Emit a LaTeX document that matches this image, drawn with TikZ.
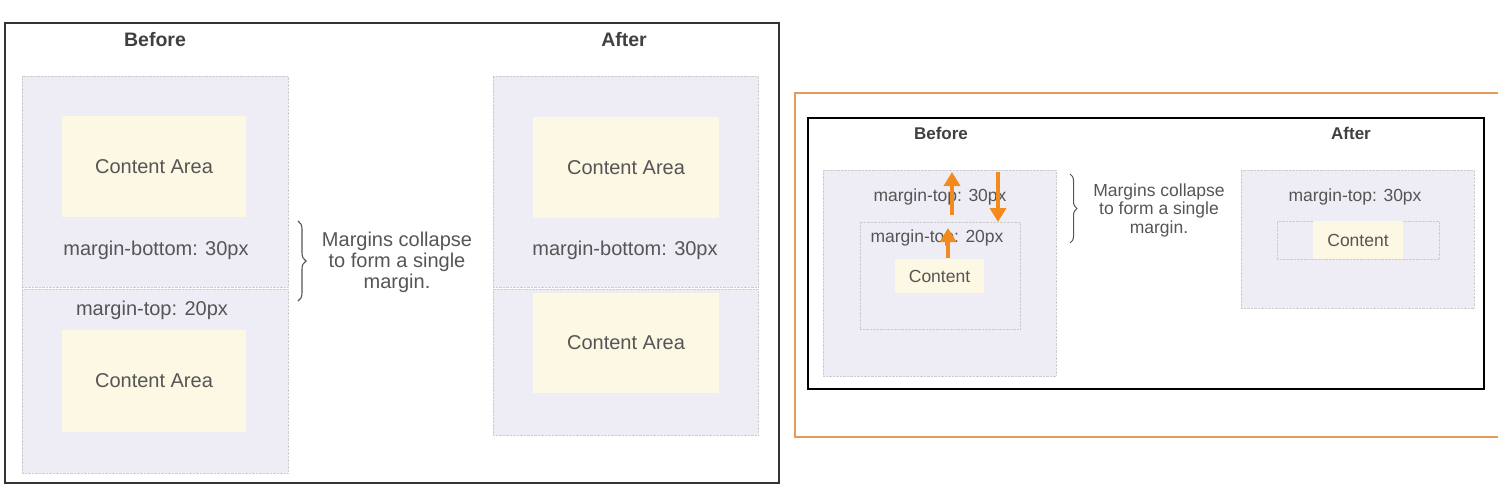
\documentclass[tikz,border=0pt]{standalone}
\usepackage{fontspec}
\setmainfont{Liberation Sans}
\usetikzlibrary{arrows.meta,decorations.pathreplacing}
\definecolor{boxfill}{HTML}{EEEDF6}
\definecolor{areafill}{HTML}{FCF8E4}
\definecolor{txtgray}{HTML}{555555}
\definecolor{pushorange}{HTML}{F28A1E}
\definecolor{frameorange}{HTML}{E39A57}

\begin{document}
\begin{tikzpicture}[x=1pt, y=-1pt,
  mbox/.style={draw=gray!40, densely dotted, fill=boxfill, inner sep=0pt, outer sep=0pt, anchor=north west},
  inbox/.style={draw=gray!40, densely dotted, inner sep=0pt, outer sep=0pt, anchor=north west},
  area/.style={fill=areafill, inner sep=0pt, outer sep=0pt, anchor=north west, text=txtgray},
  lbl/.style={text=txtgray, inner sep=0pt},
  ttl/.style={font=\bfseries, text=black!75, inner sep=0pt},
  bigf/.style={font=\fontsize{20}{21}\selectfont},
  smallf/.style={font=\fontsize{17.5}{18.5}\selectfont},
  brc/.style={draw=txtgray, line width=1.1pt, decorate, decoration={brace, amplitude=8pt}},
  push/.style={draw=pushorange, line width=4pt, -{Triangle[width=16pt,length=14pt]}}]
  \useasboundingbox (0,0) rectangle (1498,501);

  % left slide
  \draw[black!80, line width=1.1pt] (5,23) rectangle (779,483);
  \node[ttl, font=\fontsize{19.5}{21}\selectfont\bfseries] (before) at (155,40) {Before};
  \node[ttl, font=\fontsize{19.5}{21}\selectfont\bfseries] (after) at (624,40) {After};

  \node[mbox, minimum width=266, minimum height=211] (top) at (22,76) {};
  \node[mbox, minimum width=266, minimum height=184] (bot) at (22,289) {};
  \node[area, bigf, minimum width=184, minimum height=101] (topc) at (62,116) {Content Area};
  \node[lbl, bigf] (mbot) at (156,250) {margin-bottom: 30px};
  \node[lbl, bigf] (mtop) at (152,310) {margin-top: 20px};
  \node[area, bigf, minimum width=184, minimum height=102] (botc) at (62,330) {Content Area};

  \coordinate (ba) at (298,221);
  \coordinate (bb) at (298,301);
  \draw[brc] (ba) -- (bb);
  \node[lbl, bigf, align=center] (note) at (397,262) {Margins collapse\\to form a single\\margin.};

  \node[mbox, minimum width=265, minimum height=211] (atop) at (493,76) {};
  \node[mbox, minimum width=265, minimum height=146] (abot) at (493,289) {};
  \node[area, bigf, minimum width=186, minimum height=101] (atopc) at (533,117) {Content Area};
  \node[lbl, bigf] (ambot) at (625,250) {margin-bottom: 30px};
  \node[area, bigf, minimum width=186, minimum height=100] (abotc) at (533,293) {Content Area};

  % right slide
  \draw[frameorange, line width=2.5pt] (795,93) rectangle (1520,437);
  \draw[black, line width=1.3pt] (808,118) rectangle (1484,389);
  \node[ttl, font=\fontsize{17}{18}\selectfont\bfseries] (before2) at (941,133) {Before};
  \node[ttl, font=\fontsize{17}{18}\selectfont\bfseries] (after2) at (1351,133) {After};

  \node[mbox, minimum width=233, minimum height=206] (outer) at (823,170) {};
  \node[lbl, smallf] (mt30) at (940,197) {margin-top: 30px};
  \node[inbox, minimum width=160, minimum height=107] (inner) at (860,222) {};
  \node[lbl, smallf] (mt20) at (937,238) {margin-top: 20px};
  \node[area, smallf, minimum width=89, minimum height=34] (cont) at (895,259) {Content};

  \coordinate (p1) at (952,215);
  \coordinate (q1) at (952,172);
  \coordinate (p2) at (998,172);
  \coordinate (q2) at (998,222);
  \coordinate (p3) at (948,258);
  \coordinate (q3) at (948,228);
  \draw[push] (p1) -- (q1);
  \draw[push] (p2) -- (q2);
  \draw[push] (p3) -- (q3);

  \coordinate (bc) at (1070,174);
  \coordinate (bd) at (1070,243);
  \draw[brc, line width=1pt, decoration={amplitude=7pt}] (bc) -- (bd);
  \node[lbl, smallf, align=center] (note2) at (1159,210) {Margins collapse\\to form a single\\margin.};

  \node[mbox, minimum width=233, minimum height=138] (aouter) at (1241,170) {};
  \node[lbl, smallf] (amt30) at (1355,197) {margin-top: 30px};
  \node[inbox, minimum width=162, minimum height=38] (ainner) at (1277,221) {};
  \node[area, smallf, minimum width=90, minimum height=38] (acont) at (1313,221) {Content};
\end{tikzpicture}
\end{document}
